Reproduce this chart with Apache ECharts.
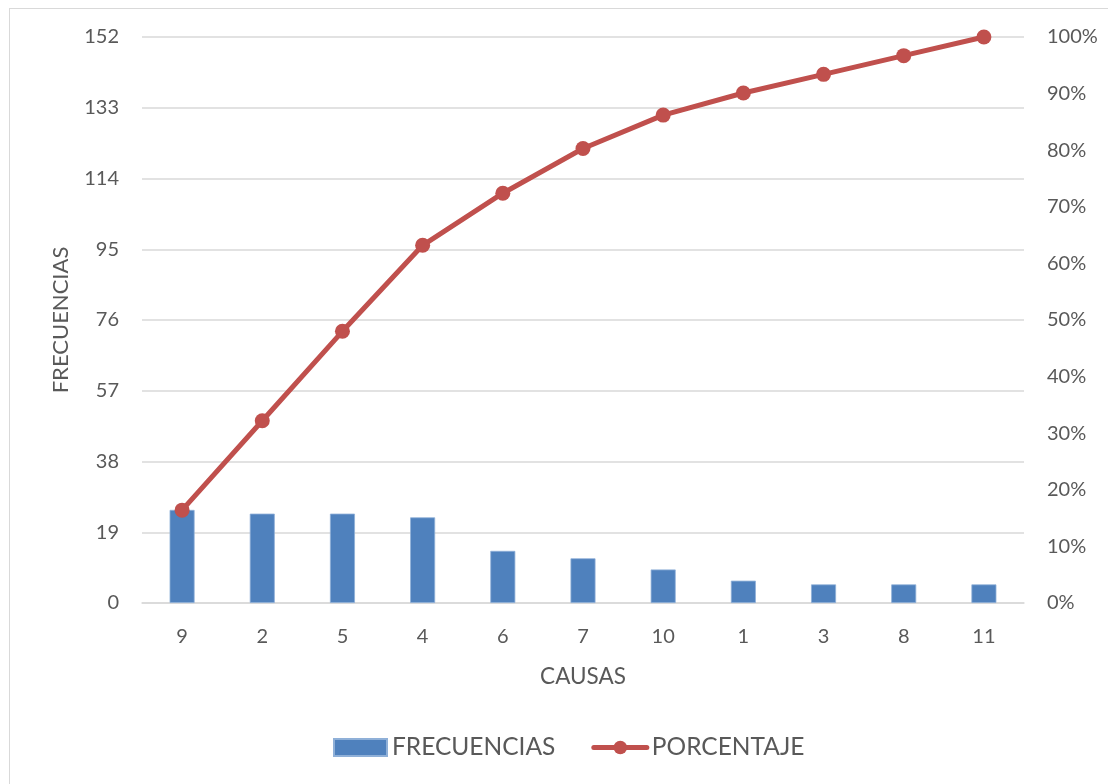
<!DOCTYPE html>
<html>
<head>
<meta charset="utf-8">
<script src="https://cdn.jsdelivr.net/npm/echarts@6/dist/echarts.min.js"></script>
<style>
  html, body { margin: 0; padding: 0; background: #fff; }
  #frame { position: absolute; left: 9px; top: 8px; width: 1120px; height: 800px;
           border: 1px solid #d9d9d9; box-sizing: border-box; }
  #chart { position: absolute; left: 0; top: 0; width: 1108px; height: 784px; }
</style>
</head>
<body>
<div id="frame"></div>
<div id="chart"></div>
<script>
// Pareto chart of causes: frequency bars plus cumulative percentage line
const causas = ['9', '2', '5', '4', '6', '7', '10', '1', '3', '8', '11'];
const frecuencias = [25, 24, 24, 23, 14, 12, 9, 6, 5, 5, 5];
const porcentaje = [16.4, 32.2, 48.0, 63.2, 72.4, 80.3, 86.2, 90.1, 93.4, 96.7, 100];
const frecTicks = { min: 0, max: 152, step: 19 };
const pctTicks = { min: 0, max: 100, step: 10 };

const textColor = '#595959';
const gridColor = '#d9d9d9';
const barColor = '#4f81bd';
const lineColor = '#c0504d';
const font = 'Lato, "Open Sans", sans-serif';

const chart = echarts.init(document.getElementById('chart'), null, { renderer: 'canvas' });
chart.setOption({
  animation: false,
  backgroundColor: 'transparent',
  textStyle: { fontFamily: font, color: textColor },
  grid: { left: 142, right: 84, top: 37, bottom: 181, containLabel: false },
  legend: {
    bottom: 19,
    left: 328,
    itemGap: 36,
    itemWidth: 53,
    itemHeight: 17,
    textStyle: { fontSize: 24.5, color: textColor, fontFamily: font },
    data: [
      { name: 'FRECUENCIAS', icon: 'rect' },
      { name: 'PORCENTAJE', lineStyle: { width: 5, color: lineColor, cap: 'round' } }
    ]
  },
  xAxis: {
    type: 'category',
    data: causas,
    name: 'CAUSAS',
    nameLocation: 'middle',
    nameGap: 62,
    nameTextStyle: { fontSize: 22.5, color: textColor, fontFamily: font },
    axisLine: { lineStyle: { color: gridColor, width: 1.5 } },
    axisTick: { show: false },
    axisLabel: { fontSize: 20, color: textColor, margin: 24 }
  },
  yAxis: [
    {
      type: 'value',
      min: frecTicks.min,
      max: frecTicks.max,
      interval: frecTicks.step,
      name: 'FRECUENCIAS',
      nameLocation: 'middle',
      nameGap: 70,
      nameRotate: 90,
      nameTextStyle: { fontSize: 22, color: textColor, fontFamily: font },
      axisLine: { show: false },
      axisTick: { show: false },
      axisLabel: { fontSize: 20, color: textColor, margin: 23 },
      splitLine: { lineStyle: { color: gridColor, width: 1.5 } }
    },
    {
      type: 'value',
      min: pctTicks.min,
      max: pctTicks.max,
      interval: pctTicks.step,
      position: 'right',
      axisLine: { show: false },
      axisTick: { show: false },
      axisLabel: { fontSize: 20, color: textColor, margin: 23, formatter: '{value}%' },
      splitLine: { show: false }
    }
  ],
  series: [
    {
      name: 'FRECUENCIAS',
      type: 'bar',
      yAxisIndex: 0,
      data: frecuencias,
      barWidth: 25,
      itemStyle: { color: barColor, borderColor: '#8fb0d8', borderWidth: 0.8 }
    },
    {
      name: 'PORCENTAJE',
      type: 'line',
      yAxisIndex: 1,
      data: porcentaje,
      symbol: 'circle',
      symbolSize: 15,
      lineStyle: { color: lineColor, width: 5, cap: 'round' },
      itemStyle: { color: lineColor }
    }
  ]
});
</script>
</body>
</html>
